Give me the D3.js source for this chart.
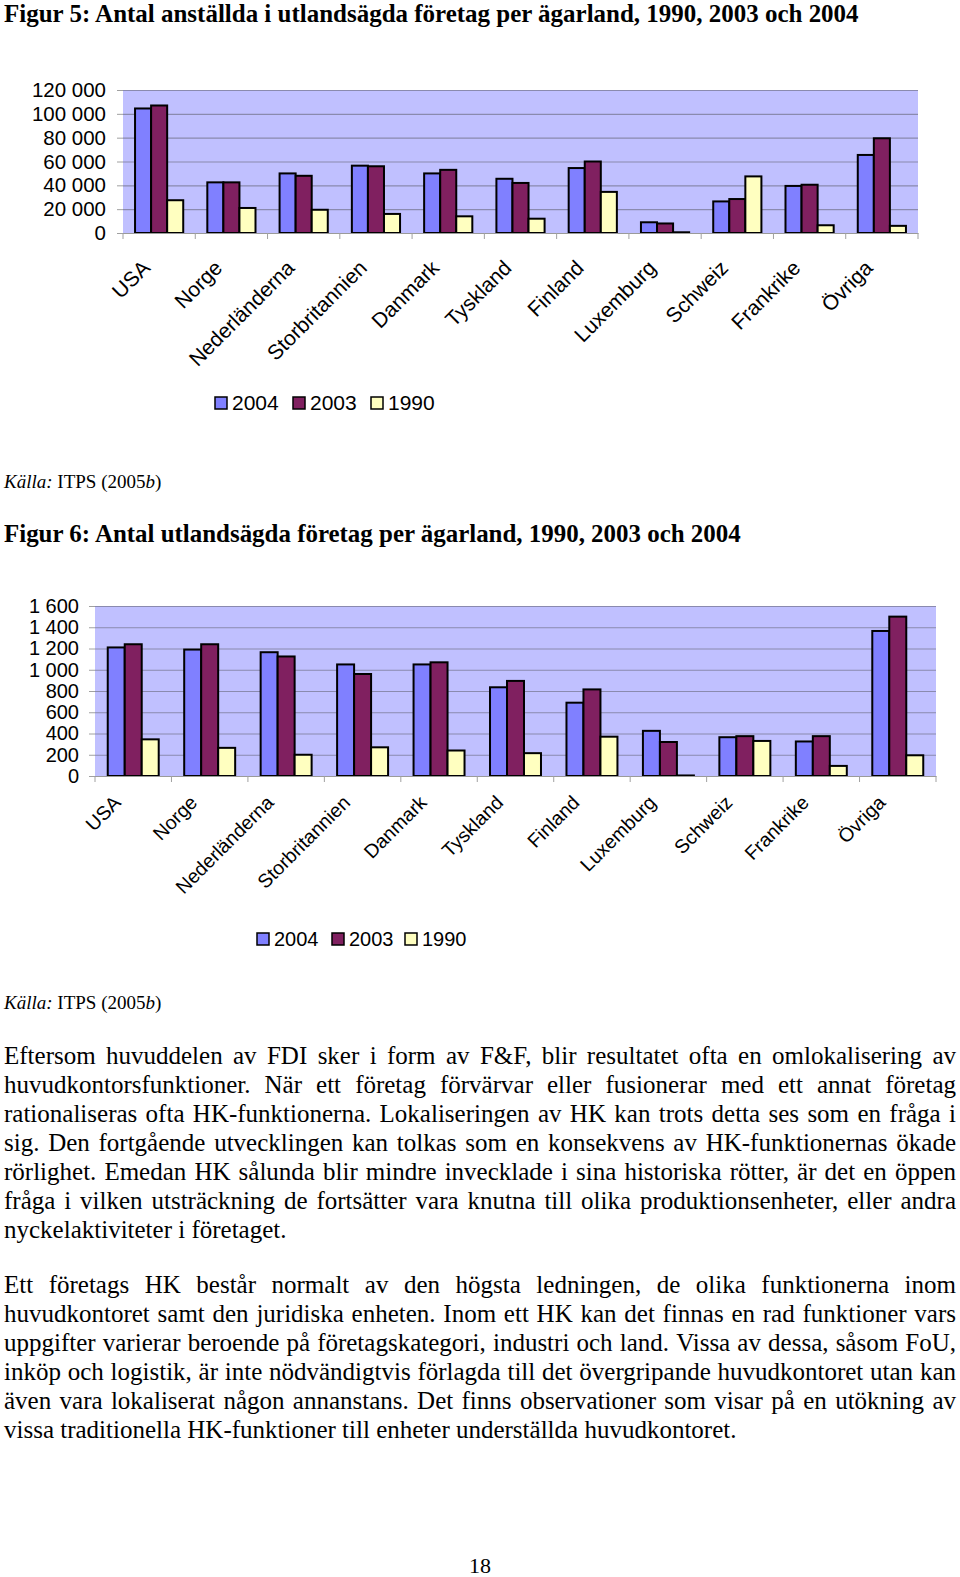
<!DOCTYPE html>
<html><head><meta charset="utf-8">
<script src="https://d3js.org/d3.v7.min.js"></script>
<style>body{margin:0;background:#fff}svg{display:block}</style>
</head><body>
<script>
// ---------- DATA ----------
const categories = ["USA","Norge","Nederländerna","Storbritannien","Danmark","Tyskland","Finland","Luxemburg","Schweiz","Frankrike","Övriga"];
const seriesNames = ["2004","2003","1990"];
const seriesColors = ["#8080ff","#802060","#ffffc0"];

const employees2004 = [104500,42500,50000,56500,50000,45500,54500,9000,26500,39500,65500];
const employees2003 = [107000,42500,48000,56000,53000,42000,60000,8000,28500,40500,79500];
const employees1990 = [27500,21000,19500,16000,14000,12000,34500,600,47500,6500,6000];
const employeeTicks = [0,20000,40000,60000,80000,100000,120000];

const firms2004 = [1210,1190,1165,1050,1050,835,690,425,365,325,1365];
const firms2003 = [1240,1240,1125,960,1070,895,815,320,375,375,1500];
const firms1990 = [345,265,200,270,240,215,370,5,330,95,195];
const firmTicks = [0,200,400,600,800,1000,1200,1400,1600];

const title1 = "Figur 5: Antal anställda i utlandsägda företag per ägarland, 1990, 2003 och 2004";
const title2 = "Figur 6: Antal utlandsägda företag per ägarland, 1990, 2003 och 2004";

const paragraph1 = [
 "Eftersom huvuddelen av FDI sker i form av F&F, blir resultatet ofta en omlokalisering av",
 "huvudkontorsfunktioner. När ett företag förvärvar eller fusionerar med ett annat företag",
 "rationaliseras ofta HK-funktionerna. Lokaliseringen av HK kan trots detta ses som en fråga i",
 "sig. Den fortgående utvecklingen kan tolkas som en konsekvens av HK-funktionernas ökade",
 "rörlighet. Emedan HK sålunda blir mindre invecklade i sina historiska rötter, är det en öppen",
 "fråga i vilken utsträckning de fortsätter vara knutna till olika produktionsenheter, eller andra",
 "nyckelaktiviteter i företaget."
];
const paragraph2 = [
 "Ett företags HK består normalt av den högsta ledningen, de olika funktionerna inom",
 "huvudkontoret samt den juridiska enheten. Inom ett HK kan det finnas en rad funktioner vars",
 "uppgifter varierar beroende på företagskategori, industri och land. Vissa av dessa, såsom FoU,",
 "inköp och logistik, är inte nödvändigtvis förlagda till det övergripande huvudkontoret utan kan",
 "även vara lokaliserat någon annanstans. Det finns observationer som visar på en utökning av",
 "vissa traditionella HK-funktioner till enheter underställda huvudkontoret."
];
const pageNumber = "18";

// ---------- SETUP ----------
const W = 960, H = 1577;
const svg = d3.select("body").append("svg").attr("width", W).attr("height", H);
svg.append("rect").attr("width", W).attr("height", H).attr("fill", "#fff");

const SERIF = "'Liberation Serif','Times New Roman',serif";
const SANS = "'Liberation Sans',Arial,sans-serif";

function measure(txt, font, size, weight, style) {
  const t = svg.append("text").attr("font-family", font).attr("font-size", size)
    .attr("font-weight", weight || "normal").attr("font-style", style || "normal").text(txt);
  const w = t.node().getComputedTextLength();
  t.remove();
  return w;
}

const spaceFmt = v => d3.format(",")(v).replace(/,/g, " ");

function drawChart(cfg) {
  const g = svg.append("g");
  const x0 = d3.scaleBand().domain(categories).range([cfg.left, cfg.right]).padding(0);
  const x1 = d3.scaleBand().domain(seriesNames).range([0, x0.bandwidth()]).paddingInner(0).paddingOuter(0.75);
  const y = d3.scaleLinear().domain([0, cfg.max]).range([cfg.bottom, cfg.top]);

  g.append("rect").attr("x", cfg.left).attr("y", cfg.top)
    .attr("width", cfg.right - cfg.left).attr("height", cfg.bottom - cfg.top).attr("fill", "#c0c0ff");

  // gridlines
  const grid = g.append("g").attr("transform", `translate(${cfg.left},0)`)
    .call(d3.axisLeft(y).tickValues(cfg.ticks).tickSize(-(cfg.right - cfg.left)).tickFormat(""));
  grid.select(".domain").remove();
  grid.selectAll("line").attr("stroke", "#8a8aae").attr("stroke-width", 1.2);

  // y axis with labels
  const ya = g.append("g").attr("transform", `translate(${cfg.left},0)`)
    .call(d3.axisLeft(y).tickValues(cfg.ticks).tickSize(6).tickPadding(cfg.yPad).tickFormat(spaceFmt));
  ya.select(".domain").remove();
  ya.selectAll("line").attr("stroke", "#a0a0a0");
  ya.selectAll("text").attr("font-family", SANS).attr("font-size", cfg.yFont).attr("fill", "#000");

  // bars
  const data = categories.map((c, i) => ({ c, vals: cfg.series.map((s, j) => ({ k: seriesNames[j], v: s[i], col: seriesColors[j] })) }));
  const grp = g.selectAll("g.cat").data(data).join("g").attr("class", "cat")
    .attr("transform", d => `translate(${x0(d.c)},0)`);
  grp.selectAll("rect").data(d => d.vals).join("rect")
    .attr("x", d => x1(d.k)).attr("width", x1.bandwidth())
    .attr("y", d => y(d.v)).attr("height", d => cfg.bottom - y(d.v))
    .attr("fill", d => d.col).attr("stroke", "#000").attr("stroke-width", 2);

  // x axis
  const xa = g.append("g").attr("transform", `translate(0,${cfg.bottom})`)
    .call(d3.axisBottom(x0).tickSize(0).tickFormat(""));
  xa.select(".domain").attr("stroke", "#9a9a9a").attr("stroke-width", 1.2);
  xa.selectAll(".tick").remove();
  const bounds = categories.map(c => x0(c)).concat([cfg.right]);
  g.selectAll("line.xt").data(bounds).join("line").attr("class", "xt")
    .attr("x1", d => d).attr("x2", d => d).attr("y1", cfg.bottom).attr("y2", cfg.bottom + 6)
    .attr("stroke", "#a0a0a0");

  // category labels
  g.selectAll("text.cl").data(categories).join("text").attr("class", "cl")
    .attr("transform", c => `translate(${x0(c) + x0.bandwidth() / 2 + cfg.labDx},${cfg.bottom + cfg.labDy}) rotate(-45)`)
    .attr("text-anchor", "end").attr("dy", "0.35em")
    .attr("font-family", SANS).attr("font-size", cfg.xFont).text(c => c);

  // legend
  const lg = g.append("g");
  seriesNames.forEach((s, j) => {
    const lx = cfg.legendX[j];
    lg.append("rect").attr("x", lx).attr("y", cfg.legendY - 6).attr("width", 12).attr("height", 12)
      .attr("fill", seriesColors[j]).attr("stroke", "#000").attr("stroke-width", 1.5);
    lg.append("text").attr("x", lx + 17).attr("y", cfg.legendY).attr("dy", "0.35em")
      .attr("font-family", SANS).attr("font-size", cfg.legFont).text(s);
  });
}

function fitText(txt, x, y, targetW, baseSize, weight) {
  const w = measure(txt, SERIF, baseSize, weight);
  const fs = baseSize * targetW / w;
  svg.append("text").attr("x", x).attr("y", y).attr("font-family", SERIF)
    .attr("font-size", fs).attr("font-weight", weight || "normal").text(txt);
}

function source(y) {
  const t = svg.append("text").attr("x", 4).attr("y", y).attr("font-family", SERIF).attr("font-size", 19);
  t.append("tspan").attr("font-style", "italic").text("Källa:");
  t.append("tspan").text(" ITPS (2005");
  t.append("tspan").attr("font-style", "italic").text("b");
  t.append("tspan").text(")");
}

// titles
fitText(title1, 4, 22, 855, 22, "bold");
fitText(title2, 4, 542, 737, 22, "bold");

drawChart({
  left: 123, right: 918, top: 90, bottom: 233, max: 120000, ticks: employeeTicks,
  series: [employees2004, employees2003, employees1990],
  yFont: 20.5, xFont: 21, yPad: 11, labDx: -13, labDy: 31,
  legendX: [215, 293, 371], legendY: 403, legFont: 21
});
source(488);

drawChart({
  left: 95, right: 936, top: 606, bottom: 776, max: 1600, ticks: firmTicks,
  series: [firms2004, firms2003, firms1990],
  yFont: 20, xFont: 19.5, yPad: 10, labDx: -16, labDy: 23,
  legendX: [257, 332, 405], legendY: 939, legFont: 20
});
source(1009);

// body text, justified
const bodyBase = 22;
const fitW = measure(paragraph2[paragraph2.length - 1], SERIF, bodyBase);
const bodySize = bodyBase * 733 / fitW;
const RIGHT = 956;

function paragraph(lines, y0) {
  lines.forEach((line, i) => {
    const y = y0 + i * 29;
    const last = i === lines.length - 1;
    if (last) {
      svg.append("text").attr("x", 4).attr("y", y).attr("font-family", SERIF).attr("font-size", bodySize).text(line);
      return;
    }
    const words = line.split(" ");
    const ws = words.map(w => measure(w, SERIF, bodySize));
    const total = d3.sum(ws);
    const gap = (RIGHT - 4 - total) / (words.length - 1);
    let x = 4;
    words.forEach((w, k) => {
      svg.append("text").attr("x", x).attr("y", y).attr("font-family", SERIF).attr("font-size", bodySize).text(w);
      x += ws[k] + gap;
    });
  });
}
paragraph(paragraph1, 1064);
paragraph(paragraph2, 1293);

svg.append("text").attr("x", 480).attr("y", 1573).attr("text-anchor", "middle")
  .attr("font-family", SERIF).attr("font-size", 22).text(pageNumber);
</script>
</body></html>
